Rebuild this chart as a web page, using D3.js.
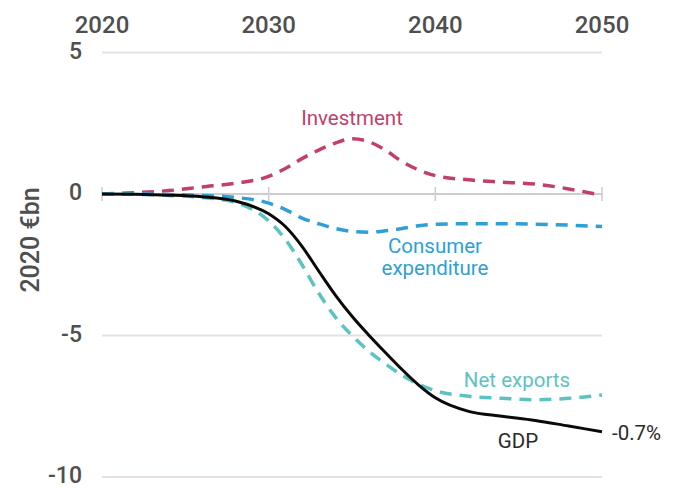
<!DOCTYPE html>
<html>
<head>
<meta charset="utf-8">
<script src="https://cdn.jsdelivr.net/npm/d3@7"></script>
<style>
  html, body { margin: 0; padding: 0; background: #fff; }
  svg { display: block; }
  text { font-family: Roboto, "Noto Sans", sans-serif; }
</style>
</head>
<body>
<svg id="chart" width="686" height="489"></svg>
<script>
// Change vs baseline, 2020 €bn
const years = [2020, 2022, 2024, 2026, 2028, 2030, 2031, 2032, 2033, 2034, 2035,
               2036, 2037, 2038, 2039, 2040, 2042, 2044, 2046, 2048, 2050];
const investment = [0, 0.05, 0.12, 0.25, 0.38, 0.62, 0.9, 1.25, 1.55, 1.8, 1.95,
                    1.85, 1.55, 1.15, 0.85, 0.65, 0.5, 0.42, 0.35, 0.18, -0.05];
const consumer = [0, 0, -0.02, -0.05, -0.12, -0.32, -0.55, -0.85, -1.05, -1.22, -1.32,
                  -1.35, -1.3, -1.22, -1.12, -1.07, -1.05, -1.05, -1.07, -1.1, -1.15];
const netExports = [0, -0.01, -0.05, -0.12, -0.3, -0.95, -1.6, -2.5, -3.5, -4.35, -5.0,
                    -5.55, -6.0, -6.4, -6.72, -6.95, -7.15, -7.22, -7.27, -7.22, -7.1];
const gdp = [0, -0.01, -0.04, -0.1, -0.25, -0.7, -1.15, -1.85, -2.72, -3.57, -4.32,
             -4.98, -5.6, -6.2, -6.75, -7.2, -7.68, -7.85, -8.0, -8.2, -8.4];
const xTicks = [2020, 2030, 2040, 2050];
const yTicks = [5, 0, -5, -10];
const gdpEndLabel = "-0.7%";

const svg = d3.select("#chart");
const x = d3.scaleLinear().domain([2020, 2050]).range([102, 602]);
const y = d3.scaleLinear().domain([-10, 5]).range([477, 52.5]);

// horizontal gridlines
svg.append("g").selectAll("line")
  .data(yTicks.filter(d => d !== 0))
  .join("line")
  .attr("x1", x(2020)).attr("x2", x(2050))
  .attr("y1", d => y(d)).attr("y2", d => y(d))
  .attr("stroke", "#e7e0de").attr("stroke-width", 2);

// zero baseline with small ticks
svg.append("line")
  .attr("x1", x(2020)).attr("x2", x(2050))
  .attr("y1", y(0)).attr("y2", y(0))
  .attr("stroke", "#cdcdcd").attr("stroke-width", 2);
svg.append("g").selectAll("line")
  .data(xTicks)
  .join("line")
  .attr("x1", d => x(d)).attr("x2", d => x(d))
  .attr("y1", y(0) - 7).attr("y2", y(0) + 7)
  .attr("stroke", "#cdcdcd").attr("stroke-width", 1.5);

// top year labels
svg.append("g").selectAll("text")
  .data(xTicks)
  .join("text")
  .attr("x", d => x(d)).attr("y", 33)
  .attr("text-anchor", "middle")
  .attr("font-size", 24).attr("font-weight", 500)
  .attr("fill", "#4f4f4f")
  .text(d => d);

// y tick labels
svg.append("g").selectAll("text")
  .data(yTicks)
  .join("text")
  .attr("x", 82).attr("y", d => y(d) + 6)
  .attr("text-anchor", "end")
  .attr("font-size", 23).attr("font-weight", 500)
  .attr("fill", "#4f4f4f")
  .text(d => d);

// y axis title
svg.append("text")
  .attr("transform", "translate(39,240) rotate(-90)")
  .attr("text-anchor", "middle")
  .attr("font-size", 25).attr("font-weight", 500)
  .attr("fill", "#4f4f4f")
  .text("2020 €bn");

const line = d3.line()
  .x((d, i) => x(years[i]))
  .y(d => y(d))
  .curve(d3.curveMonotoneX);

const series = [
  { values: investment, color: "#c23f6a", dash: "12 8", width: 3.5 },
  { values: consumer, color: "#2f9fd8", dash: "12 8", width: 3.5 },
  { values: netExports, color: "#5cc3c2", dash: "12 8", width: 3.5 },
  { values: gdp, color: "#0a0a0a", dash: null, width: 3 }
];

svg.append("g").selectAll("path")
  .data(series)
  .join("path")
  .attr("d", d => line(d.values))
  .attr("fill", "none")
  .attr("stroke", d => d.color)
  .attr("stroke-width", d => d.width)
  .attr("stroke-dasharray", d => d.dash)
  .attr("stroke-linecap", "butt");

// series labels
const labels = [
  { lines: ["Investment"], x: 352, y: 125, color: "#c23f6a" },
  { lines: ["Consumer", "expenditure"], x: 435, y: 253, color: "#2f9fd8" },
  { lines: ["Net exports"], x: 517, y: 387, color: "#5cc3c2" },
  { lines: ["GDP"], x: 518, y: 448, color: "#2a2a2a" }
];
labels.forEach(l => {
  const t = svg.append("text")
    .attr("text-anchor", "middle")
    .attr("font-size", 20.5).attr("font-weight", 400)
    .attr("fill", l.color);
  l.lines.forEach((s, i) => {
    t.append("tspan").attr("x", l.x).attr("y", l.y + i * 22).text(s);
  });
});

svg.append("text")
  .attr("x", x(2050) + 10).attr("y", y(gdp[gdp.length - 1]) + 8)
  .attr("font-size", 20.5).attr("font-weight", 400)
  .attr("fill", "#2a2a2a")
  .text(gdpEndLabel);
</script>
</body>
</html>
